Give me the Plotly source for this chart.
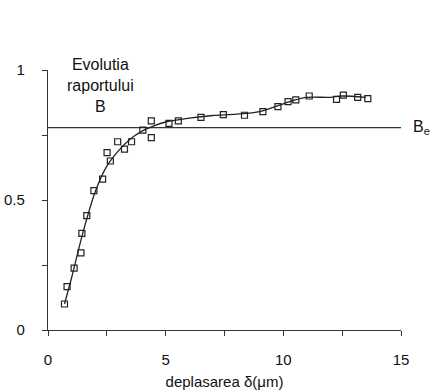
import plotly.graph_objects as go

# Measured points (deplasarea in um, ratio B)
pts_x = [0.70, 0.81, 1.11, 1.40, 1.44, 1.65, 1.95, 2.32, 2.51, 2.65, 2.96, 3.25, 3.55,
         4.03, 4.39, 4.39, 5.14, 5.54, 6.50, 7.45, 8.35, 9.13, 9.77, 10.2, 10.53,
         11.1, 12.26, 12.55, 13.16, 13.59]
pts_y = [0.100, 0.167, 0.238, 0.297, 0.372, 0.440, 0.536, 0.580, 0.682, 0.650, 0.724,
         0.696, 0.724, 0.769, 0.804, 0.740, 0.795, 0.804, 0.818, 0.828, 0.826, 0.840,
         0.859, 0.878, 0.885, 0.900, 0.887, 0.903, 0.895, 0.890]

# Smooth trend curve
curve_x = [0.7, 1.0, 1.5, 2.0, 2.5, 3.0, 3.5, 4.0, 4.5, 5.0, 6.0, 7.0, 8.0, 9.0,
           10.0, 10.5, 11.0, 12.0, 12.5, 13.5]
curve_y = [0.10, 0.20, 0.38, 0.53, 0.63, 0.69, 0.735, 0.765, 0.785, 0.80, 0.815,
           0.825, 0.83, 0.84, 0.87, 0.885, 0.895, 0.895, 0.90, 0.895]

# Reference level B_e
ref_x = [0, 15]
ref_level = 0.778

x_ticks = [0, 5, 10, 15]
x_labels = ["0", "5", "10", "15"]
x_minor = [2.5, 7.5, 12.5]
y_ticks = [0, 0.5, 1]
y_labels = ["0", "0.5", "1"]
y_minor = [0.25, 0.75]

FONT = "Liberation Sans, Arial, sans-serif"

fig = go.Figure()
fig.add_trace(go.Scatter(x=ref_x, y=[ref_level, ref_level], mode="lines",
                         line=dict(color="#333333", width=1.3), showlegend=False,
                         cliponaxis=False))
fig.add_trace(go.Scatter(x=curve_x, y=curve_y, mode="lines",
                         line=dict(color="#222222", width=1.3, shape="spline", smoothing=0.8),
                         showlegend=False))
fig.add_trace(go.Scatter(x=pts_x, y=pts_y, mode="markers",
                         marker=dict(symbol="square-open", size=6, color="#222222",
                                     line=dict(width=1.2)),
                         showlegend=False, cliponaxis=False))

tick_common = dict(showgrid=False, zeroline=False, showline=True, linecolor="#333333",
                   linewidth=1.3, ticks="outside", ticklen=5, tickcolor="#333333",
                   tickwidth=1.2, tickfont=dict(size=15), automargin=False)

fig.update_layout(
    width=430, height=391,
    margin=dict(l=48, r=29, t=70, b=61, autoexpand=False),
    paper_bgcolor="white", plot_bgcolor="white",
    font=dict(family=FONT, size=15, color="#111111"),
    xaxis=dict(range=[0, 15], tickvals=x_ticks, ticktext=x_labels,
               minor=dict(tickvals=x_minor, ticks="outside", ticklen=5,
                          tickcolor="#333333", tickwidth=1.2, showgrid=False),
               ticklabelstandoff=11,
               title=dict(text="deplasarea δ(μm)", font=dict(size=15), standoff=9),
               **tick_common),
    yaxis=dict(range=[0, 1], tickvals=y_ticks, ticktext=y_labels,
               minor=dict(tickvals=y_minor, ticks="outside", ticklen=5,
                          tickcolor="#333333", tickwidth=1.2, showgrid=False),
               ticklabelstandoff=14, **tick_common),
)

fig.add_annotation(x=0.15, y=1.06, xref="paper", yref="paper",
                   text="Evolutia<br>raportului<br>B",
                   showarrow=False, align="center", xanchor="center", yanchor="top",
                   font=dict(size=16))
fig.add_annotation(x=1.0, y=ref_level, xref="paper", yref="y", text="B<sub>e</sub>",
                   showarrow=False, xanchor="left", yanchor="middle", xshift=10,
                   font=dict(size=16))

fig.write_html("out.html")
